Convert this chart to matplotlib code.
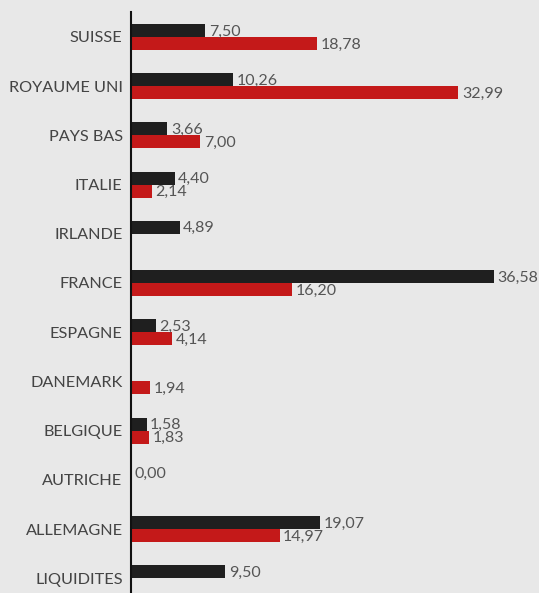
import numpy as np
import matplotlib.pyplot as plt

plt.rcParams['font.family'] = ['Lato', 'DejaVu Sans']

# Data (None = no bar)
pays = ['SUISSE', 'ROYAUME UNI', 'PAYS BAS', 'ITALIE', 'IRLANDE', 'FRANCE',
        'ESPAGNE', 'DANEMARK', 'BELGIQUE', 'AUTRICHE', 'ALLEMAGNE', 'LIQUIDITES']
serie_noire = [7.50, 10.26, 3.66, 4.40, 4.89, 36.58, 2.53, None, 1.58, 0.00, 19.07, 9.50]
serie_rouge = [18.78, 32.99, 7.00, 2.14, None, 16.20, 4.14, 1.94, 1.83, None, 14.97, None]

fond = '#e8e8e8'
noir = '#1f1f1f'
rouge = '#c41919'
h = 0.265

fig = plt.figure(figsize=(5.39, 5.93), dpi=100, facecolor=fond)
ax = fig.add_axes([0.243, 0.0, 0.757, 0.98], facecolor=fond)

y = np.arange(len(pays))

def fmt(v):
    return f"{v:.2f}".replace('.', ',')

for i, v in enumerate(serie_noire):
    if v is None:
        continue
    ax.barh(y[i] - h / 2, v, height=h, color=noir)
    ax.text(v + 0.35, y[i] - h / 2 + 0.02, fmt(v), va='center', ha='left',
            fontsize=11.5, color='#555555')

for i, v in enumerate(serie_rouge):
    if v is None:
        continue
    ax.barh(y[i] + h / 2, v, height=h, color=rouge)
    ax.text(v + 0.35, y[i] + h / 2 + 0.02, fmt(v), va='center', ha='left',
            fontsize=11.5, color='#555555')

ax.set_xlim(0, 41.1)
ax.set_ylim(11.3, -0.51)
ax.set_yticks(y)
ax.set_yticklabels(pays, fontsize=11.7, color='#444444')
ax.tick_params(axis='y', length=0, pad=6)
ax.set_xticks([])
for s in ['top', 'right', 'bottom']:
    ax.spines[s].set_visible(False)
ax.spines['left'].set_linewidth(1.5)
ax.spines['left'].set_color('#111111')

fig.savefig('out.png', dpi=100, facecolor=fond)
